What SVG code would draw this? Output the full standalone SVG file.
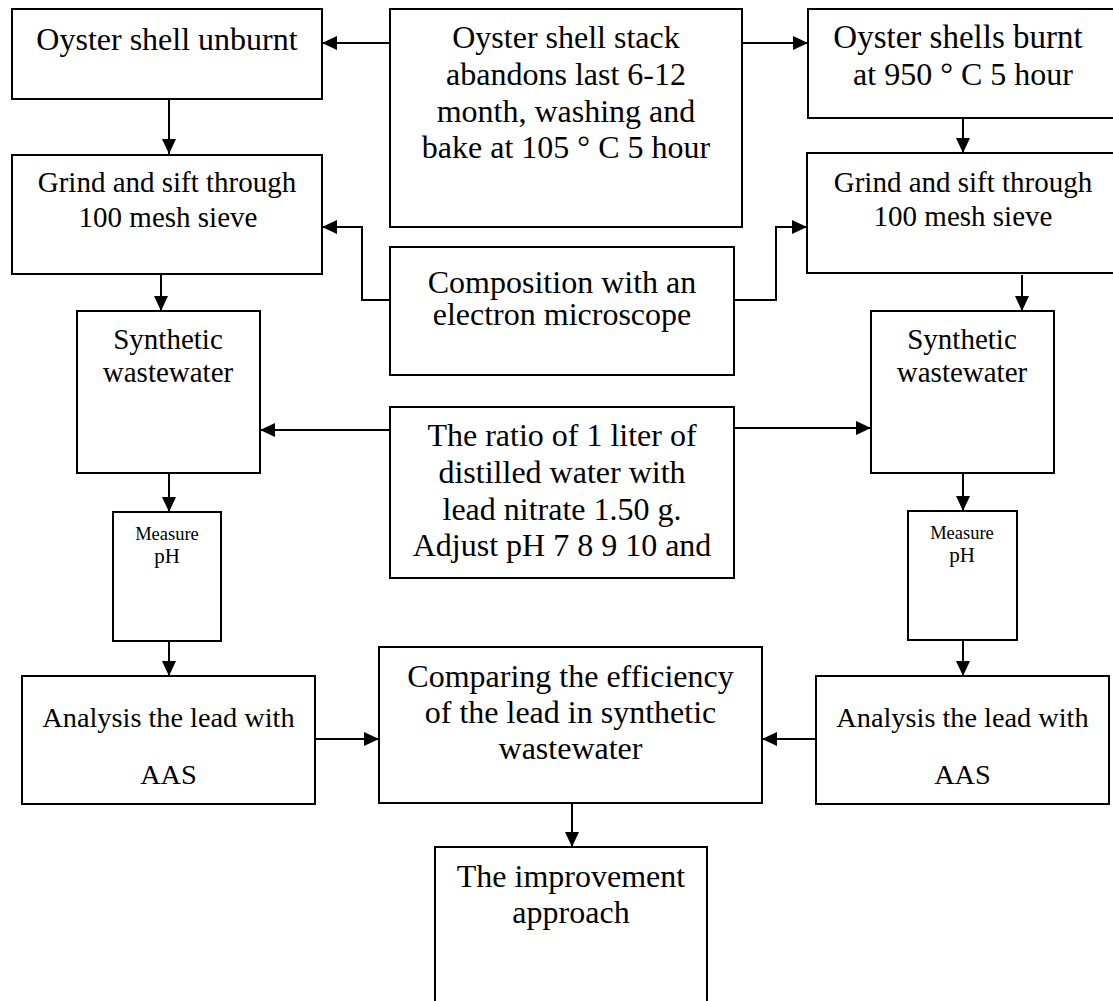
<svg xmlns="http://www.w3.org/2000/svg" width="1113" height="1001" viewBox="0 0 1113 1001">
<style>
.box{fill:#fff;stroke:#000;stroke-width:2}
.t{font-family:"Liberation Serif","Times New Roman",serif;font-size:32px;fill:#000;text-anchor:middle}
.s1{font-size:18.5px}
.s2{font-size:21px}
.m{font-size:29px}
.a{font-size:28.3px}
.c{fill:none;stroke:#000;stroke-width:2;marker-end:url(#ah)}
</style>
<defs>
<marker id="ah" markerUnits="userSpaceOnUse" markerWidth="16" markerHeight="14" refX="15" refY="7" orient="auto">
<path d="M0,0 L15,7 L0,14 z" fill="#000"/>
</marker>
</defs>
<rect width="1113" height="1001" fill="#fff"/>
<g id="connectors">
<path class="c" d="M390,43 H322"/>
<path class="c" d="M742,43 H808"/>
<path class="c" d="M169,99 V154"/>
<path class="c" d="M963,118 V153"/>
<path class="c" d="M390,300 H362 V227 H322"/>
<path class="c" d="M734,300 H776 V227 H807"/>
<path class="c" d="M161,274 V311"/>
<path class="c" d="M1022,275 V311"/>
<path class="c" d="M390,430 H260"/>
<path class="c" d="M734,428 H871"/>
<path class="c" d="M169,473 V512"/>
<path class="c" d="M963,473 V511"/>
<path class="c" d="M169,641 V676"/>
<path class="c" d="M963,640 V676"/>
<path class="c" d="M313,739 H379"/>
<path class="c" d="M817,739 H762"/>
<path class="c" d="M572,797 V847"/>
</g>
<g id="n-unburnt">
<rect class="box" x="12" y="9" width="310" height="90"/>
<text class="t" x="167" y="50">Oyster shell unburnt</text>
</g>
<g id="n-stack">
<rect class="box" x="390" y="9" width="352" height="218"/>
<text class="t" x="566" y="48">Oyster shell stack</text>
<text class="t" x="566" y="85">abandons last 6-12</text>
<text class="t" x="566" y="122">month, washing and</text>
<text class="t" x="566" y="158">bake at 105 ° C 5 hour</text>
</g>
<g id="n-burnt">
<rect class="box" x="808" y="9" width="310" height="109"/>
<text class="t" x="958" y="48" style="font-size:33px">Oyster shells burnt</text>
<text class="t" x="963" y="85">at 950 ° C 5 hour</text>
</g>
<g id="n-grind-left">
<rect class="box" x="12" y="155" width="310" height="119"/>
<text class="t m" x="167" y="192">Grind and sift through</text>
<text class="t m" x="168" y="227">100 mesh sieve</text>
</g>
<g id="n-grind-right">
<rect class="box" x="807" y="153" width="311" height="120"/>
<text class="t m" x="963" y="192">Grind and sift through</text>
<text class="t m" x="963" y="226">100 mesh sieve</text>
</g>
<g id="n-composition">
<rect class="box" x="390" y="247" width="344" height="128"/>
<text class="t" x="562" y="293">Composition with an</text>
<text class="t" x="562" y="325">electron microscope</text>
</g>
<g id="n-synth-left">
<rect class="box" x="77" y="311" width="183" height="162"/>
<text class="t m" x="168" y="349">Synthetic</text>
<text class="t m" x="168" y="382">wastewater</text>
</g>
<g id="n-synth-right">
<rect class="box" x="871" y="311" width="183" height="162"/>
<text class="t m" x="962" y="349">Synthetic</text>
<text class="t m" x="962" y="382">wastewater</text>
</g>
<g id="n-ratio">
<rect class="box" x="390" y="407" width="344" height="171"/>
<text class="t" x="562" y="446">The ratio of 1 liter of</text>
<text class="t" x="562" y="483">distilled water with</text>
<text class="t" x="562" y="520">lead nitrate 1.50 g.</text>
<text class="t" x="562" y="556">Adjust pH 7 8 9 10 and</text>
</g>
<g id="n-ph-left">
<rect class="box" x="113" y="512" width="108" height="129"/>
<text class="t s1" x="167" y="540">Measure</text>
<text class="t s2" x="167" y="563">pH</text>
</g>
<g id="n-ph-right">
<rect class="box" x="908" y="511" width="109" height="129"/>
<text class="t s1" x="962" y="539">Measure</text>
<text class="t s2" x="962" y="562">pH</text>
</g>
<g id="n-aas-left">
<rect class="box" x="22" y="676" width="293" height="128"/>
<text class="t a" x="168.5" y="727">Analysis the lead with</text>
<text class="t a" x="168.5" y="784">AAS</text>
</g>
<g id="n-aas-right">
<rect class="box" x="816" y="676" width="293" height="128"/>
<text class="t a" x="962.5" y="727">Analysis the lead with</text>
<text class="t a" x="962.5" y="784">AAS</text>
</g>
<g id="n-compare">
<rect class="box" x="379" y="647" width="383" height="156"/>
<text class="t" x="570.5" y="687">Comparing the efficiency</text>
<text class="t" x="570.5" y="723">of the lead in synthetic</text>
<text class="t" x="570.5" y="759">wastewater</text>
</g>
<g id="n-improve">
<rect class="box" x="435" y="847" width="272" height="170"/>
<text class="t" x="571" y="887">The improvement</text>
<text class="t" x="571" y="923">approach</text>
</g>
</svg>
